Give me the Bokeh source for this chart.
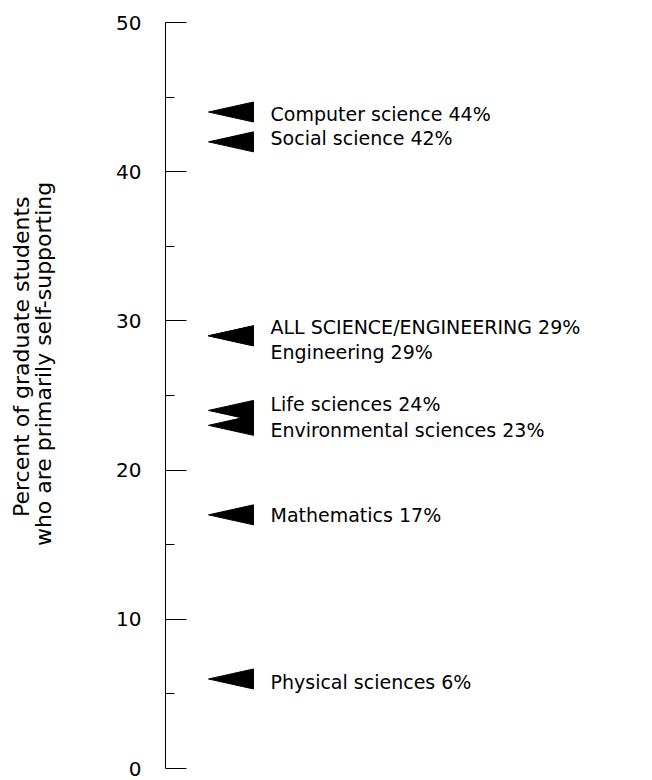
import math
from bokeh.plotting import figure
from bokeh.layouts import row
from bokeh.models import Range1d, FixedTicker
from bokeh.core.properties import value
from bokeh.embed import file_html
from bokeh.resources import INLINE

# ---- data ----
fields = ["Computer science", "Social science", "ALL SCIENCE/ENGINEERING", "Engineering",
          "Life sciences", "Environmental sciences", "Mathematics", "Physical sciences"]
percents = [44, 42, 29, 29, 24, 23, 17, 6]
major_ticks = [0, 10, 20, 30, 40, 50]
minor_ticks = [5, 15, 25, 35, 45]
axis_title = ["Percent of graduate students", "who are primarily self-supporting"]

# ---- layout (positions only) ----
label_offsets = [-0.1, 0.23, 0.56, -1.1, 0.4, -0.28, 0.0, -0.23]
FONT = "DejaVu Sans"
H = 780
TITLE_W = 62                      # width of the strip holding the rotated axis title
title_x = [20.5, 42.5]            # pixel centres of the two title lines
title_y = [349.5, 357.0]

W = 636 - TITLE_W
LEFT, TOP, BOTTOM = 165 - TITLE_W, 22, 12
frame_w = W - LEFT
frame_h = H - TOP - BOTTOM
px_per_unit = frame_h / 50.0

# ---- strip with rotated y-axis title ----
t = figure(width=TITLE_W, height=H, output_backend="svg", toolbar_location=None,
           x_axis_location=None, y_axis_location=None,
           x_range=Range1d(0, TITLE_W), y_range=Range1d(H, 0),
           min_border_left=0, min_border_right=0, min_border_top=0, min_border_bottom=0)
t.grid.grid_line_color = None
t.outline_line_color = None
t.text(x=title_x, y=title_y, text=axis_title, angle=math.pi / 2,
       text_font=value(FONT), text_font_size=value("22px"), text_color="black",
       text_align="center", text_baseline="middle")

# ---- main chart ----
p = figure(width=W, height=H, output_backend="svg", toolbar_location=None,
           x_axis_location=None, x_range=Range1d(0, frame_w), y_range=Range1d(0, 50),
           min_border_left=LEFT, min_border_right=0, min_border_top=TOP,
           min_border_bottom=BOTTOM)
p.grid.grid_line_color = None
p.outline_line_color = None
p.background_fill_color = "white"
p.border_fill_color = "white"

ax = p.yaxis[0]
ax.ticker = FixedTicker(ticks=major_ticks, minor_ticks=minor_ticks)
ax.axis_line_color = "black"
ax.axis_line_width = 1
ax.major_tick_in = 21
ax.major_tick_out = 0
ax.minor_tick_in = 9
ax.minor_tick_out = 0
ax.major_tick_line_color = "black"
ax.minor_tick_line_color = "black"
ax.major_label_standoff = 24
ax.major_label_text_font = FONT
ax.major_label_text_font_size = "20px"
ax.major_label_text_color = "black"

# triangles pointing left at each value
tip_x, base_x = 43, 88
half = 10 / px_per_unit
xs = [[tip_x, base_x, base_x] for _ in percents]
ys = [[v, v + half, v - half] for v in percents]
p.patches(xs, ys, fill_color="black", line_color="black", line_width=1)

# labels
texts = [f"{f}  {v}%" for f, v in zip(fields, percents)]
ty = [v + o for v, o in zip(percents, label_offsets)]
p.text(x=[105] * len(texts), y=ty, text=texts, text_font=value(FONT),
       text_font_size=value("19px"), text_color="black",
       text_align="left", text_baseline="middle")

layout = row(t, p)
open("out.html", "w").write(file_html(layout, INLINE))
